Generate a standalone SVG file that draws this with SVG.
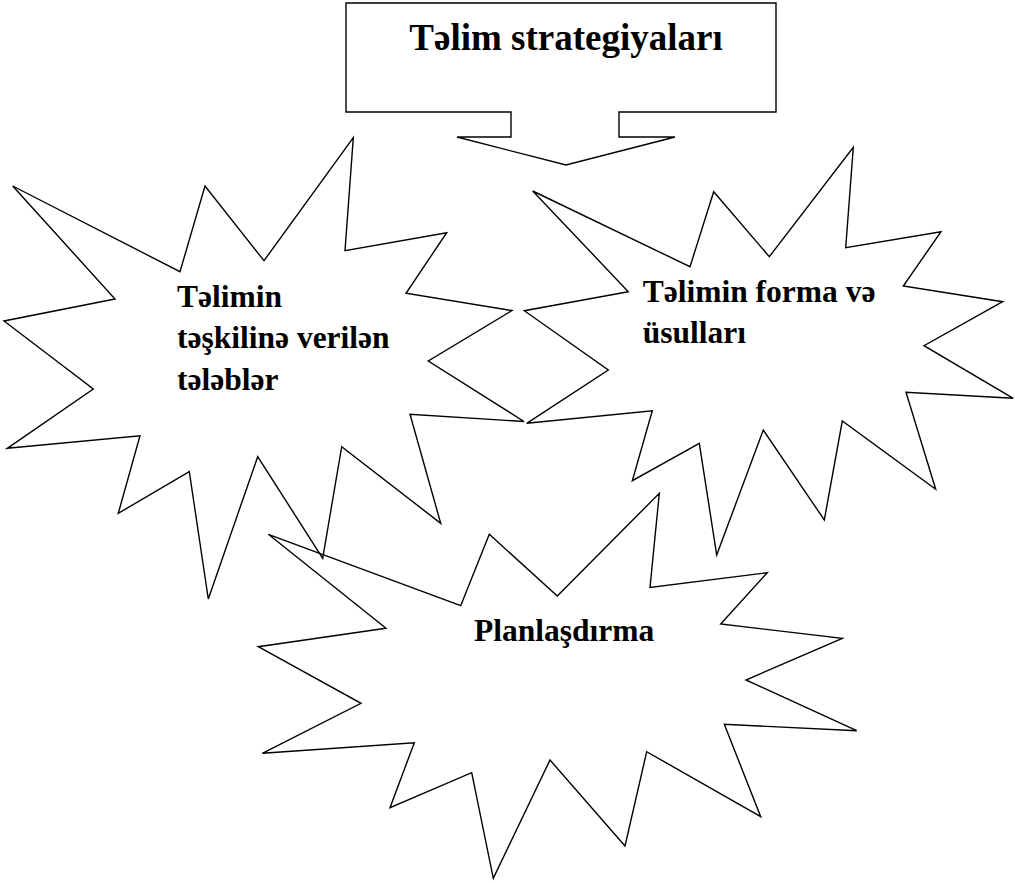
<svg xmlns="http://www.w3.org/2000/svg" width="1015" height="883" viewBox="0 0 1015 883">
<style>
.shape{fill:none;stroke:#000;stroke-width:1.4;stroke-linejoin:miter}
.lbl{font-family:"Liberation Serif","Times New Roman",serif;font-weight:bold;font-size:31.5px;fill:#000}
.title{font-family:"Liberation Serif","Times New Roman",serif;font-weight:bold;font-size:37px;fill:#000}
</style>
<rect width="1015" height="883" fill="#fff"/>
<g id="node-title">
<path class="shape" d="M346,3 L776,3 L776,112 L619,112 L619,137 L675,137 L566,165 L457,137 L511,137 L511,112 L346,112 Z"/>
<text class="title" x="566" y="50" text-anchor="middle">Təlim strategiyaları</text>
</g>
<g id="node-left">
<path class="shape" d="M353.3,137.7 L345,250.7 L446.7,232.7 L406,293.3 L512,310.5 L428.3,361 L524,421.5 L410,414.3 L440.7,523.3 L341.7,446.7 L322.7,558.3 L257.7,456.7 L208.3,599 L189.3,471.7 L118.3,513.3 L140,435.7 L7.3,448.3 L93.3,389 L4,321 L115,299 L12.7,186 L180,271.7 L205,186 L264,260.7 Z"/>
<text class="lbl" x="177" y="306.7">Təlimin</text>
<text class="lbl" x="177" y="348.3">təşkilinə verilən</text>
<text class="lbl" x="177" y="390">tələblər</text>
</g>
<g id="node-right">
<path class="shape" d="M853.3,147.3 L845.7,247.7 L941,231.7 L903.3,286 L1002.7,301.7 L924,345.7 L1013.3,398.3 L906,392.3 L935.7,489.3 L842.3,421 L824.3,520 L763.3,430 L716.7,555 L699.3,443.3 L632.3,480.7 L652.3,410.7 L526.7,423.3 L608.3,370 L524.3,310.7 L628.3,291.7 L532.7,191 L690,266.7 L713.7,191.7 L769.3,256.7 Z"/>
<text class="lbl" x="642.7" y="301.7">Təlimin forma və</text>
<text class="lbl" x="642.7" y="343.3">üsulları</text>
</g>
<g id="node-bottom">
<path class="shape" d="M268.3,534.3 L460.7,605.7 L489.3,534.3 L557.3,596 L659.3,493.3 L650,587.5 L767.3,572.7 L720.7,624 L842.3,638.3 L746,680 L856.7,730.7 L724.3,724.3 L760.7,816.7 L646.7,751.7 L625,846 L550,760 L493.3,878.3 L471.7,772.7 L390,807.7 L414.3,742.7 L262.3,753.3 L361,703.3 L258.3,646.7 L386,628.3 Z"/>
<text class="lbl" x="474" y="640.7">Planlaşdırma</text>
</g>
<g id="connectors"></g>
</svg>
